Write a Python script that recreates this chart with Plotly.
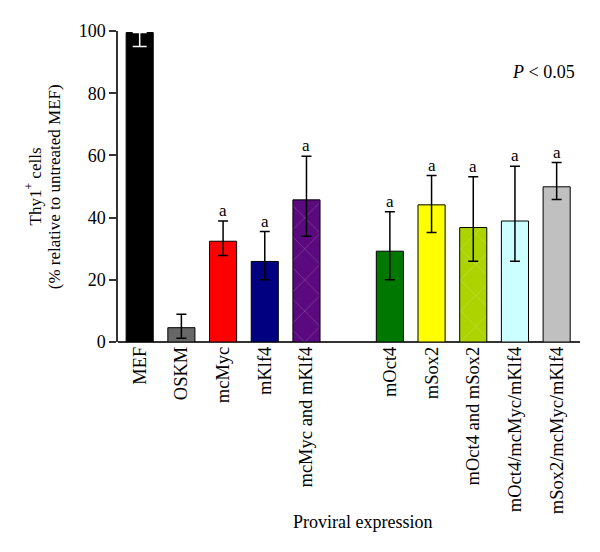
import plotly.graph_objects as go

categories = ["MEF", "OSKM", "mcMyc", "mKlf4", "mcMyc and mKlf4",
              "mOct4", "mSox2", "mOct4 and mSox2", "mOct4/mcMyc/mKlf4", "mSox2/mcMyc/mKlf4"]
values = [99.5, 4.6, 32.4, 25.9, 45.7, 29.2, 44.1, 36.8, 38.9, 49.9]
err_plus = [0.0, 4.3, 6.5, 9.6, 14.0, 12.7, 9.4, 16.3, 17.6, 7.8]
err_minus = [4.5, 3.4, 4.6, 5.9, 11.7, 9.2, 8.9, 10.8, 12.9, 4.1]
significant = [False, False, True, True, True, True, True, True, True, True]
colors = ["#000000", "#676767", "#FF0000", "#000080", "#5A0A7E",
          "#007800", "#FFFF00", "#ADD400", "#CCFFFF", "#C0C0C0"]
patterns = ["", "", "", "", "x", "", "", "x", "", ""]
err_colors = ["#FFFFFF"] + ["#000000"] * 9

FONT = "Liberation Serif"

# positions with a gap between the two groups
positions = [i + (1 if i >= 5 else 0) for i in range(len(categories))]

fig = go.Figure()
for i, cat in enumerate(categories):
    marker = dict(color=colors[i], line=dict(color="#000000", width=1))
    if patterns[i]:
        marker["pattern"] = dict(shape=patterns[i], fgcolor="rgba(255,255,255,0.75)",
                                 size=22, solidity=0.04)
    fig.add_trace(go.Bar(
        x=[positions[i]], y=[values[i]], width=0.65, marker=marker,
        error_y=dict(type="data", symmetric=False, array=[err_plus[i]],
                     arrayminus=[err_minus[i]], color=err_colors[i],
                     thickness=1.5, width=7 if i == 0 else 5),
        showlegend=False, name=cat,
    ))
    if significant[i]:
        fig.add_annotation(x=positions[i], y=values[i] + err_plus[i], text="a",
                           showarrow=False, yanchor="bottom", yshift=-1,
                           font=dict(family=FONT, size=17, color="#000000"))

fig.add_annotation(xref="paper", yref="paper", x=0.993, y=0.868, xanchor="right",
                   yanchor="middle", text="<i>P</i> < 0.05", showarrow=False,
                   font=dict(family=FONT, size=18, color="#000000"))

fig.add_annotation(xref="paper", yref="paper", x=0.53, y=-0.579, xanchor="center",
                   yanchor="middle", text="Proviral expression", showarrow=False,
                   font=dict(family=FONT, size=18, color="#000000"))

# y-axis title as two rotated lines
fig.add_annotation(xref="paper", yref="paper", x=-0.184, y=0.5, xanchor="center",
                   yanchor="middle", textangle=-90, showarrow=False,
                   text="Thy1<sup>+</sup> cells",
                   font=dict(family=FONT, size=17, color="#000000"))
fig.add_annotation(xref="paper", yref="paper", x=-0.137, y=0.5, xanchor="center",
                   yanchor="middle", textangle=-90, showarrow=False,
                   text="(% relative to untreated MEF)",
                   font=dict(family=FONT, size=17, color="#000000"))

fig.update_layout(
    width=600, height=552,
    margin=dict(l=110, r=28, t=23, b=218),
    plot_bgcolor="white", paper_bgcolor="white",
    font=dict(family=FONT, size=18, color="#000000"),
    xaxis=dict(
        range=[-0.52, 10.56],
        tickmode="array", tickvals=positions, ticktext=categories,
        tickangle=-90, ticks="", showgrid=False, zeroline=False,
        showline=False, automargin=False,
        tickfont=dict(family=FONT, size=18.5),
    ),
    yaxis=dict(
        range=[0, 100], tickvals=[0, 20, 40, 60, 80, 100],
        ticks="outside", ticklen=7, tickwidth=1.5, tickcolor="#333",
        showline=True, linecolor="#333", linewidth=1.5,
        showgrid=False, zeroline=True, zerolinecolor="#333", zerolinewidth=1.5,
        tickfont=dict(family=FONT, size=18), automargin=False,
    ),
)

fig.write_html("out.html")
